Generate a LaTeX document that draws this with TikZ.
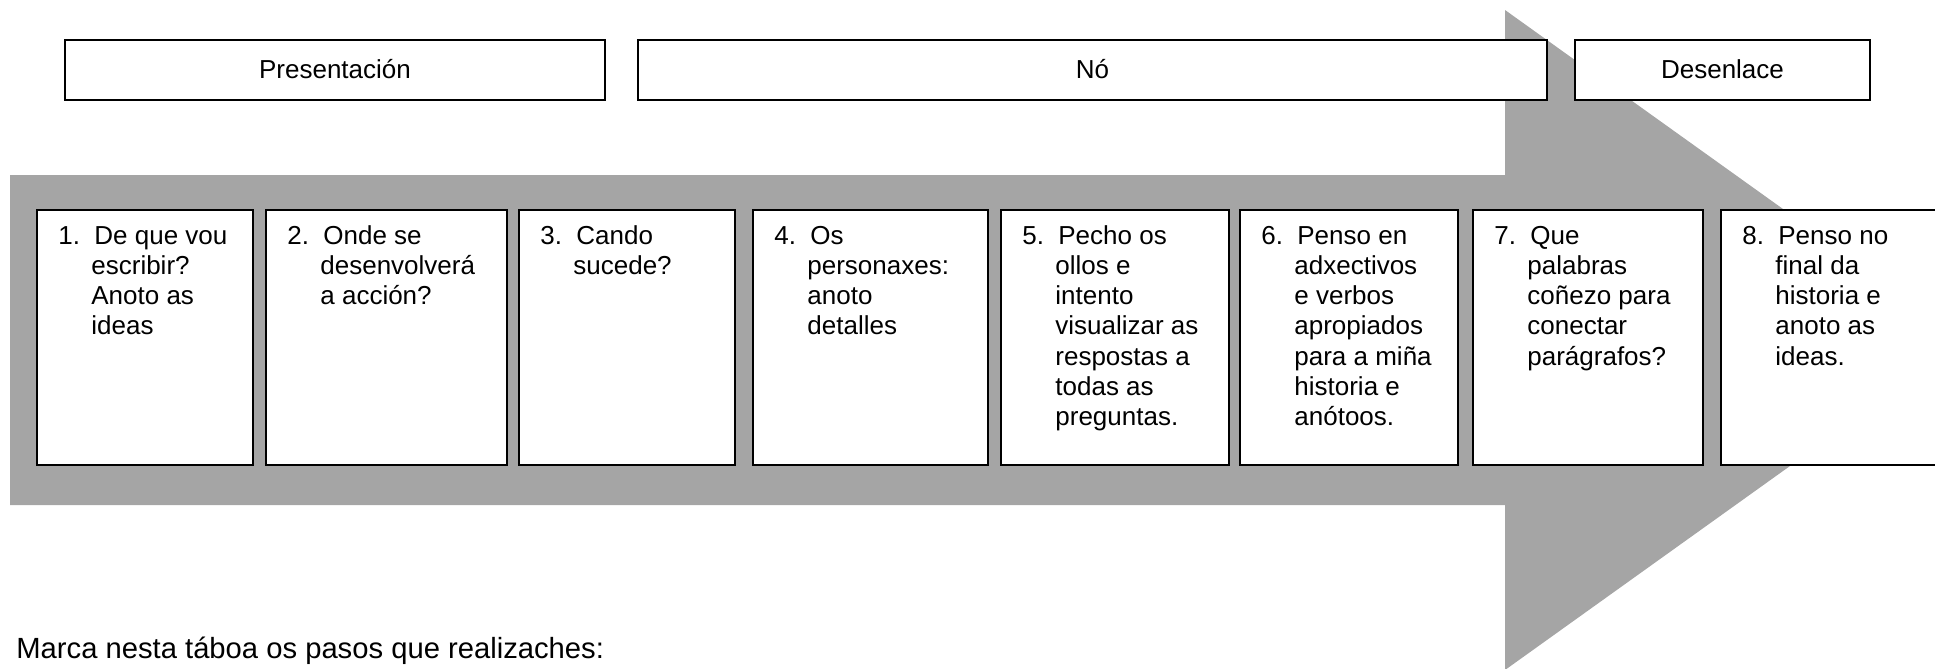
\documentclass[tikz,border=0pt]{standalone}
\usepackage{fontspec}
\setmainfont{Liberation Sans}
\usetikzlibrary{calc}
\definecolor{arrowgray}{RGB}{165,165,165}
\begin{document}
\begin{tikzpicture}[x=0.5pt,y=-0.5pt,
  hdrbox/.style={draw=black, line width=0.7pt, fill=white, inner sep=0pt,
    minimum height=30pt, font=\fontsize{13pt}{15pt}\selectfont,
    text height=10pt, text depth=2pt},
  stepbox/.style={draw=black, line width=1pt, fill=white, inner sep=0pt,
    minimum height=127.5pt},
  steptext/.style={anchor=base west, inner sep=0pt,
    font=\fontsize{13pt}{15.15pt}\selectfont}
]
\useasboundingbox (0,0) rectangle (1935,669);
\clip (0,0) rectangle (1935,669);
\renewcommand{\arraystretch}{1}
\newcommand{\nb}[1]{\makebox[16.5pt][l]{#1}}

% big gray arrow
\fill[arrowgray] (10,175) -- (1505,175) -- (1505,10) -- (1966,340)
  -- (1505,670) -- (1505,505) -- (10,505) -- cycle;

% headers
\node[hdrbox, minimum width=270pt] (pres) at (335,70) {Presentación};
\node[hdrbox, minimum width=454.5pt] (no) at (1092.5,70) {Nó};
\node[hdrbox, minimum width=147.5pt] (des) at (1722.5,70) {Desenlace};

% step boxes
\node[stepbox, minimum width=108pt]   (b1) at (145,337.5) {};
\node[stepbox, minimum width=120.5pt] (b2) at (386.5,337.5) {};
\node[stepbox, minimum width=108pt]   (b3) at (627,337.5) {};
\node[stepbox, minimum width=117.5pt] (b4) at (870.5,337.5) {};
\node[stepbox, minimum width=114pt]   (b5) at (1115,337.5) {};
\node[stepbox, minimum width=109pt]   (b6) at (1349,337.5) {};
\node[stepbox, minimum width=115pt]   (b7) at (1588,337.5) {};
\node[stepbox, minimum width=119.5pt] (b8) at (1840.5,337.5) {};

% step texts
\node[steptext] (t1) at ($(b1.north west)+(22,35)$) {\begin{tabular}[t]{@{}l@{}l@{}}
\nb{1.}&\hspace{1.5pt}De que vou\\ &escribir?\\ &Anoto as\\ &ideas\end{tabular}};
\node[steptext] (t2) at ($(b2.north west)+(22,35)$) {\begin{tabular}[t]{@{}l@{}l@{}}
\nb{2.}&\hspace{1.5pt}Onde se\\ &desenvolverá\\ &a acción?\end{tabular}};
\node[steptext] (t3) at ($(b3.north west)+(22,35)$) {\begin{tabular}[t]{@{}l@{}l@{}}
\nb{3.}&\hspace{1.5pt}Cando\\ &sucede?\end{tabular}};
\node[steptext] (t4) at ($(b4.north west)+(22,35)$) {\begin{tabular}[t]{@{}l@{}l@{}}
\nb{4.}&\hspace{1.5pt}Os\\ &personaxes:\\ &anoto\\ &detalles\end{tabular}};
\node[steptext] (t5) at ($(b5.north west)+(22,35)$) {\begin{tabular}[t]{@{}l@{}l@{}}
\nb{5.}&\hspace{1.5pt}Pecho os\\ &ollos e\\ &intento\\ &visualizar as\\ &respostas a\\ &todas as\\ &preguntas.\end{tabular}};
\node[steptext] (t6) at ($(b6.north west)+(22,35)$) {\begin{tabular}[t]{@{}l@{}l@{}}
\nb{6.}&\hspace{1.5pt}Penso en\\ &adxectivos\\ &e verbos\\ &apropiados\\ &para a miña\\ &historia e\\ &anótoos.\end{tabular}};
\node[steptext] (t7) at ($(b7.north west)+(22,35)$) {\begin{tabular}[t]{@{}l@{}l@{}}
\nb{7.}&\hspace{1.5pt}Que\\ &palabras\\ &coñezo para\\ &conectar\\ &parágrafos?\end{tabular}};
\node[steptext] (t8) at ($(b8.north west)+(22,35)$) {\begin{tabular}[t]{@{}l@{}l@{}}
\nb{8.}&\hspace{1.5pt}Penso no\\ &final da\\ &historia e\\ &anoto as\\ &ideas.\end{tabular}};

% bottom note
\node[anchor=base west, inner sep=0pt, font=\fontsize{14.6pt}{17pt}\selectfont]
  (note) at (16,658) {Marca nesta táboa os pasos que realizaches:};
\end{tikzpicture}
\end{document}
